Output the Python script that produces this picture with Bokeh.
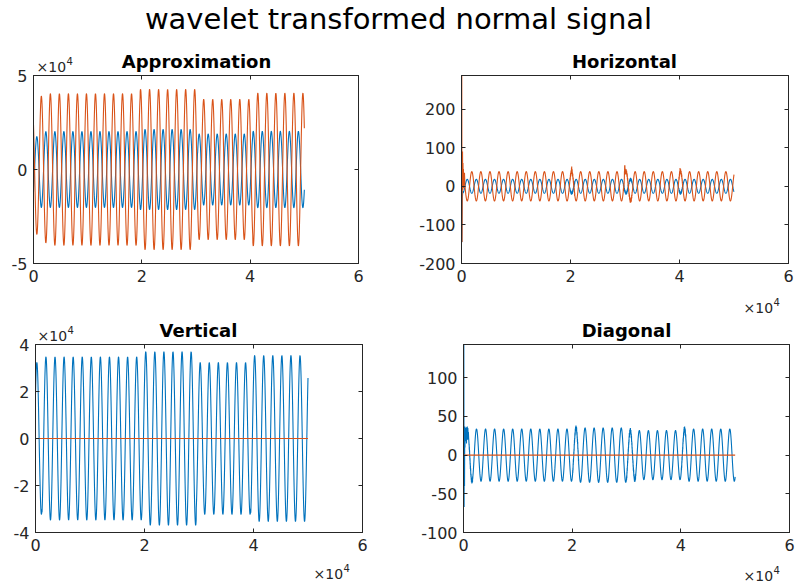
import numpy as np
from bokeh.plotting import figure
from bokeh.layouts import column, row
from bokeh.models import Range1d, FixedTicker, LinearAxis
from bokeh.embed import file_html
from bokeh.resources import INLINE
from bokeh.core.properties import value

# ---------------- data ----------------
N_SAMPLES = 50000
STEP = 20
PERIOD = 1665.0          # samples per cycle (about 30 cycles over 5e4 samples)

X_TICKS = [0, 20000, 40000, 60000]
X_TICK_LABELS = ["0", "2", "4", "6"]

SUPTITLE = "wavelet transformed normal signal"
SUBTITLES = ["Approximation", "Horizontal", "Vertical", "Diagonal"]
EXP_BASE = "\u00d710"
EXP_POWER = "4"

# Approximation
APPROX_Y_RANGE = (-50000, 50000)
APPROX_Y_TICKS = [-50000, 0, 50000]
APPROX_Y_LABELS = ["-5", "0", "5"]
APPROX_BLUE_EDGES = [0, 1100, 19700, 30300, 40500, 50000]
APPROX_BLUE_AMPS = [17500, 20200, 21300, 18900, 20300]
APPROX_BLUE_PEAK = 615
APPROX_ORANGE_EDGES = [0, 1100, 2800, 19700, 30300, 40500, 50000]
APPROX_ORANGE_AMPS = [34500, 39000, 40300, 42600, 37300, 40600]
APPROX_ORANGE_PEAK = 1450

# Horizontal
HORIZ_Y_RANGE = (-200, 287)
HORIZ_Y_TICKS = [-200, -100, 0, 100, 200]
HORIZ_Y_LABELS = ["-200", "-100", "0", "100", "200"]
HORIZ_BLUE_EDGES = [0, 50000]
HORIZ_BLUE_AMPS = [18]
HORIZ_BLUE_PEAK = 1056
HORIZ_ORANGE_EDGES = [0, 50000]
HORIZ_ORANGE_AMPS = [38]
HORIZ_ORANGE_PEAK = 223
HORIZ_BLUE_START_N = [0, 60, 130, 180, 240, 300]
HORIZ_BLUE_START_V = [-60, -145, -41, -25, -12, -17]
HORIZ_ORANGE_START_N = [0, 50, 100, 150, 190, 230, 270, 310, 350, 400, 450, 500, 550, 600]
HORIZ_ORANGE_START_V = [60, 287, -144, 40, 90, -10, 60, 20, 45, -5, 30, 10, 35, 12]
HORIZ_ORANGE_SPIKE_N = [20230, 29950, 40100]
HORIZ_ORANGE_SPIKE_V = [46, 56, 42]
HORIZ_NOISE_WINDOWS = [(19900, 20800), (29700, 31300), (39900, 40600)]

# Vertical
VERT_Y_RANGE = (-40000, 40000)
VERT_Y_TICKS = [-40000, -20000, 0, 20000, 40000]
VERT_Y_LABELS = ["-4", "-2", "0", "2", "4"]
VERT_BLUE_EDGES = [0, 1200, 19800, 29500, 39500, 50000]
VERT_BLUE_AMPS = [32300, 34700, 36900, 32300, 35300]
VERT_BLUE_PEAK = 250
VERT_ORANGE_LEVEL = 0

# Diagonal
DIAG_Y_RANGE = (-100, 143)
DIAG_Y_TICKS = [-100, -50, 0, 50, 100]
DIAG_Y_LABELS = ["-100", "-50", "0", "50", "100"]
DIAG_BLUE_EDGES = [0, 20300, 30300, 40300, 50000]
DIAG_BLUE_AMPS = [33.8, 35.2, 31.8, 33.8]
DIAG_BLUE_PEAK = 727
DIAG_BLUE_START_N = [0, 60, 110, 150, 190, 230, 270, 310, 350, 400, 450, 500,
                     550, 600, 650, 700, 750, 800, 850, 900, 950, 1000]
DIAG_BLUE_START_V = [20, 143, -67, 30, -40, 37, 10, 35, 18, 33, 22, 36,
                     15, 34, 25, 37, 20, 35, 28, 30, 22, 17]
DIAG_NOISE_WINDOWS = [(1000, 1700), (20100, 21200), (30000, 31700), (40100, 40900)]
DIAG_ORANGE_LEVEL = 0

JITTER = [0.9, -0.7, 0.5, -1.0, 0.8, -0.4, 1.0, -0.8, 0.3, -0.6]

BLUE = "#0072BD"
ORANGE = "#D95319"
AX = "#262626"
FONT = "DejaVu Sans"
W = 795
OVERLAP = 10   # rows of plots start this many px above the end of the text band before them

# ---------------- series construction ----------------
n_full = np.arange(0, N_SAMPLES + 1, STEP).astype(float)


def piecewise_amp(n, edges, amps):
    idx = np.clip(np.searchsorted(edges, n, side="right") - 1, 0, len(amps) - 1)
    return np.asarray(amps, float)[idx]


def wave(n, edges, amps, peak):
    return piecewise_amp(n, edges, amps) * np.cos(2 * np.pi * (n - peak) / PERIOD)


def with_start(n, y, start_n, start_v):
    keep = n > start_n[-1]
    return (np.concatenate([np.asarray(start_n, float), n[keep]]),
            np.concatenate([np.asarray(start_v, float), y[keep]]))


def add_jitter(n, y, windows, size):
    y = y.copy()
    pat = np.array(JITTER)
    for a, b in windows:
        m = (n >= a) & (n <= b)
        y[m] += size * np.resize(pat, int(np.count_nonzero(m)))
    return y


def add_spikes(n, y, at, tops, half_width=100):
    for c, t in zip(at, tops):
        base = np.interp(c, n, y)
        w = np.clip(1 - np.abs(n - c) / half_width, 0, None)
        y = y + (t - base) * w
    return y


ap_blue = wave(n_full, APPROX_BLUE_EDGES, APPROX_BLUE_AMPS, APPROX_BLUE_PEAK)
ap_orange = wave(n_full, APPROX_ORANGE_EDGES, APPROX_ORANGE_AMPS, APPROX_ORANGE_PEAK)

hz_blue = wave(n_full, HORIZ_BLUE_EDGES, HORIZ_BLUE_AMPS, HORIZ_BLUE_PEAK)
hz_blue = add_jitter(n_full, hz_blue, HORIZ_NOISE_WINDOWS, 4)
hz_blue_n, hz_blue = with_start(n_full, hz_blue, HORIZ_BLUE_START_N, HORIZ_BLUE_START_V)
hz_orange = wave(n_full, HORIZ_ORANGE_EDGES, HORIZ_ORANGE_AMPS, HORIZ_ORANGE_PEAK)
hz_orange = add_spikes(n_full, hz_orange, HORIZ_ORANGE_SPIKE_N, HORIZ_ORANGE_SPIKE_V)
hz_orange = add_jitter(n_full, hz_orange, HORIZ_NOISE_WINDOWS, 6)
hz_orange_n, hz_orange = with_start(n_full, hz_orange, HORIZ_ORANGE_START_N, HORIZ_ORANGE_START_V)

vt_blue = wave(n_full, VERT_BLUE_EDGES, VERT_BLUE_AMPS, VERT_BLUE_PEAK)
vt_orange = np.full_like(n_full, VERT_ORANGE_LEVEL)

dg_blue = wave(n_full, DIAG_BLUE_EDGES, DIAG_BLUE_AMPS, DIAG_BLUE_PEAK)
dg_blue = add_jitter(n_full, dg_blue, DIAG_NOISE_WINDOWS, 3.5)
dg_blue_n, dg_blue = with_start(n_full, dg_blue, DIAG_BLUE_START_N, DIAG_BLUE_START_V)
dg_orange = np.full_like(n_full, DIAG_ORANGE_LEVEL)


# ---------------- figures ----------------
def style_axis(ax, ticks, labels=None):
    ax.ticker = FixedTicker(ticks=ticks)
    ax.major_tick_in = 4
    ax.major_tick_out = 0
    ax.minor_tick_line_color = None
    ax.axis_line_color = AX
    ax.major_tick_line_color = AX
    ax.major_label_text_color = AX
    ax.major_label_text_font = FONT
    if labels is None:
        ax.major_label_text_font_size = "1px"
        ax.major_label_text_color = None
        ax.major_label_standoff = 0
        ax.axis_label_standoff = 0
    else:
        ax.major_label_text_font_size = "16px"
        ax.major_label_standoff = 6
        ax.major_label_overrides = {t: l for t, l in zip(ticks, labels)}


def panel(width, height, borders, y_range, y_ticks, y_labels):
    left, right, top, bottom = borders
    p = figure(width=width, height=height, output_backend="svg", toolbar_location=None,
               title=None, x_range=Range1d(0, 60000), y_range=Range1d(*y_range),
               min_border_left=left, min_border_right=right,
               min_border_top=top, min_border_bottom=bottom,
               background_fill_color="white", border_fill_color=None)
    p.grid.visible = False
    p.outline_line_color = AX
    p.outline_line_width = 1
    style_axis(p.xaxis[0], X_TICKS, X_TICK_LABELS)
    style_axis(p.yaxis[0], y_ticks, y_labels)
    right_ax = LinearAxis()
    style_axis(right_ax, y_ticks)
    p.add_layout(right_ax, "right")
    top_ax = LinearAxis()
    style_axis(top_ax, X_TICKS)
    p.add_layout(top_ax, "above")
    return p


def strip(y0, y1):
    """A text-only band spanning page rows y0..y1 (coordinates in page pixels)."""
    s = figure(width=W, height=y1 - y0, output_backend="svg", toolbar_location=None,
               title=None, x_range=Range1d(0, W), y_range=Range1d(y1, y0), min_border=0,
               background_fill_color="white", border_fill_color="white")
    s.xaxis.visible = False
    s.yaxis.visible = False
    s.grid.visible = False
    s.outline_line_color = None
    return s


def put_text(s, x, y, txt, size, bold=False, align="center", color="black"):
    # y is the wanted baseline; the svg text sits about 0.32 em lower than asked
    y_adj = y - 0.32 * size
    s.text(x=[x], y=[y_adj], text=[txt], text_font=value(FONT), text_font_size=f"{size}px",
           text_font_style="bold" if bold else "normal", text_align=align,
           text_baseline="alphabetic", text_color=color)


def put_exponent(s, x, y):
    put_text(s, x, y, EXP_BASE, 14, align="left", color=AX)
    put_text(s, x + 30, y - 7, EXP_POWER, 10, align="left", color=AX)


# header band: page y 0..75
head = strip(0, 75)
put_text(head, 398, 28, SUPTITLE, 29)
put_text(head, 196, 67, SUBTITLES[0], 18, bold=True)
put_text(head, 624, 67, SUBTITLES[1], 18, bold=True)
put_exponent(head, 36, 70.5)

# first row: page y 65..292 (overlaps the band above by OVERLAP px, transparent border)
tl = panel(400, 227, (33, 42, 10, 29), APPROX_Y_RANGE, APPROX_Y_TICKS, APPROX_Y_LABELS)
tl.line(n_full, ap_blue, line_color=BLUE, line_width=1.1)
tl.line(n_full, ap_orange, line_color=ORANGE, line_width=1.1)

tr = panel(395, 227, (61, 7, 10, 29), HORIZ_Y_RANGE, HORIZ_Y_TICKS, HORIZ_Y_LABELS)
tr.line(hz_blue_n, hz_blue, line_color=BLUE, line_width=1.1)
tr.line(hz_orange_n, hz_orange, line_color=ORANGE, line_width=1.1)

# middle band: page y 292..344
mid = strip(292, 344)
put_exponent(mid, 743, 312)
put_text(mid, 198, 336, SUBTITLES[2], 18, bold=True)
put_text(mid, 626, 336, SUBTITLES[3], 18, bold=True)
put_exponent(mid, 37, 339.5)

# second row: page y 334..560
bl = panel(400, 226, (35, 38, 10, 28), VERT_Y_RANGE, VERT_Y_TICKS, VERT_Y_LABELS)
bl.line(n_full, vt_blue, line_color=BLUE, line_width=1.1)
bl.line(n_full, vt_orange, line_color=ORANGE, line_width=1.1)

br = panel(395, 226, (63, 6, 10, 27), DIAG_Y_RANGE, DIAG_Y_TICKS, DIAG_Y_LABELS)
br.line(dg_blue_n, dg_blue, line_color=BLUE, line_width=1.1)
br.line(n_full, dg_orange, line_color=ORANGE, line_width=1.1)

# footer band: page y 560..586
foot = strip(560, 586)
put_exponent(foot, 313, 578)
put_exponent(foot, 743, 580)

row1 = row(tl, tr, margin=(-OVERLAP, 0, 0, 0))
row2 = row(bl, br, margin=(-OVERLAP, 0, 0, 0))
layout = column(head, row1, mid, row2, foot)
open("out.html", "w").write(file_html(layout, INLINE))
